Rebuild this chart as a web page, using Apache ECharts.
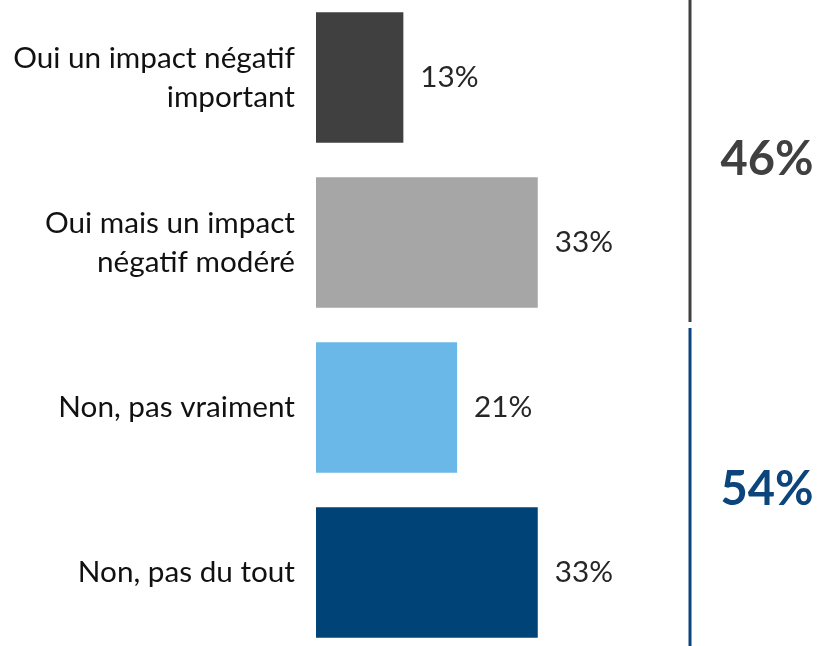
<!DOCTYPE html>
<html>
<head>
<meta charset="utf-8">
<script src="https://cdn.jsdelivr.net/npm/echarts@6/dist/echarts.min.js"></script>
<style>
  html, body { margin: 0; padding: 0; background: #fff; }
  #chart { width: 818px; height: 646px; }
</style>
</head>
<body>
<div id="chart"></div>
<script>
// Data
const categories = [
  'Oui un impact négatif\nimportant',
  'Oui mais un impact\nnégatif modéré',
  'Non, pas vraiment',
  'Non, pas du tout'
]
const values = [13, 33, 21, 33]
const barColors = ['#404040', '#A6A6A6', '#69B8E8', '#004477']
const totals = [46, 54]
const totalColors = ['#404040', '#0B457C']
const groups = [[0, 1], [2, 3]]

const FONT = 'Lato'
const chart = echarts.init(document.getElementById('chart'))

chart.setOption({
  animation: false,
  backgroundColor: '#fff',
  grid: { left: 316, top: -5, width: 336, height: 660, outerBoundsMode: 'none', containLabel: false },
  xAxis: {
    type: 'value',
    min: 0,
    max: 50,
    show: false
  },
  yAxis: {
    type: 'category',
    data: categories,
    inverse: true,
    axisLine: { show: false },
    axisTick: { show: false },
    axisLabel: {
      margin: 21,
      color: '#111',
      fontFamily: FONT,
      fontSize: 29.7,
      lineHeight: 39,
      align: 'right'
    }
  },
  series: [{
    type: 'bar',
    barCategoryGap: '21%',
    data: values.map((v, i) => ({ value: v, itemStyle: { color: barColors[i] } })),
    label: {
      show: true,
      position: 'right',
      distance: 17,
      color: '#262626',
      fontFamily: FONT,
      fontSize: 29.7,
      formatter: '{c}%'
    }
  }]
})

// Bracket lines + group totals, placed from the category axis
const half = 660 / categories.length / 2
const graphics = []
groups.forEach((g, k) => {
  const yTop = chart.convertToPixel({ yAxisIndex: 0 }, g[0]) - half
  const yBot = chart.convertToPixel({ yAxisIndex: 0 }, g[g.length - 1]) + half
  const y1 = k === 0 ? 0 : yTop + 3
  const y2 = k === 0 ? yBot - 3 : 646
  graphics.push({
    type: 'line',
    shape: { x1: 690, y1: y1, x2: 690, y2: y2 },
    style: { stroke: totalColors[k], lineWidth: 3 }
  })
  graphics.push({
    type: 'text',
    x: 767,
    y: (yTop + yBot) / 2,
    style: {
      text: totals[k] + '%',
      fill: totalColors[k],
      font: 'bold 47px ' + FONT,
      align: 'center',
      verticalAlign: 'middle'
    }
  })
})
chart.setOption({ graphic: graphics })
</script>
</body>
</html>
